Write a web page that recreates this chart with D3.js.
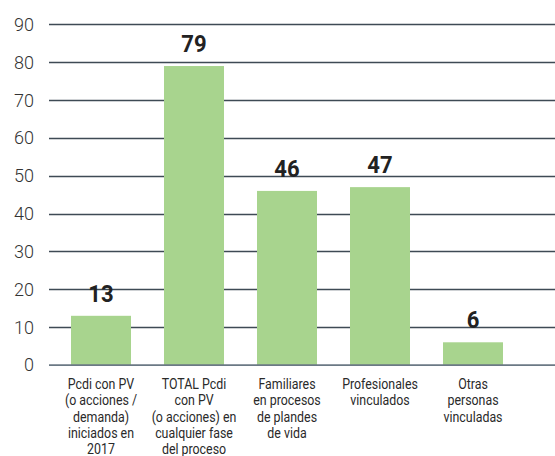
<!DOCTYPE html>
<html>
<head>
<meta charset="utf-8">
<script src="https://cdn.jsdelivr.net/npm/d3@7"></script>
<style>
  html, body { margin: 0; padding: 0; background: #fff; overflow: hidden; }
  svg { display: block; }
</style>
</head>
<body>
<svg id="chart" width="555" height="456"></svg>
<script>
const categories = [
  ["Pcdi con PV", "(o acciones /", "demanda)", "iniciados en", "2017"],
  ["TOTAL Pcdi", "con PV", "(o acciones) en", "cualquier fase", "del proceso"],
  ["Familiares", "en procesos", "de plandes", "de vida"],
  ["Profesionales", "vinculados"],
  ["Otras", "personas", "vinculadas"]
];
const values = [13, 79, 46, 47, 6];
const yTicks = [0, 10, 20, 30, 40, 50, 60, 70, 80, 90];

const svg = d3.select("#chart");
const x = d3.scaleBand().domain(d3.range(categories.length)).range([54.5, 519.5]).paddingInner(0.355).paddingOuter(0.1775);
const y = d3.scaleLinear().domain([0, 90]).range([365, 24.4]);

// gridlines
svg.append("g").selectAll("line").data(yTicks.filter(d => d > 0)).join("line")
  .attr("x1", 49).attr("x2", 555)
  .attr("y1", d => Math.round(y(d)) + 0.5).attr("y2", d => Math.round(y(d)) + 0.5)
  .attr("stroke", "#3e4a55").attr("stroke-width", 1.3);

// y tick labels
svg.append("g").selectAll("text").data(yTicks).join("text")
  .attr("x", 34).attr("y", d => y(d))
  .attr("dy", "0.36em")
  .attr("text-anchor", "end")
  .attr("font-family", "Roboto, 'Liberation Sans', sans-serif")
  .attr("font-weight", 300)
  .attr("font-size", 18)
  .attr("fill", "#333")
  .text(d => d);

// bars
svg.append("g").selectAll("rect").data(values).join("rect")
  .attr("x", (d, i) => x(i))
  .attr("width", x.bandwidth())
  .attr("y", d => y(d))
  .attr("height", d => y(0) - y(d))
  .attr("fill", "#a8d48e");

// zero axis line
svg.append("line")
  .attr("x1", 49).attr("x2", 555).attr("y1", 365.2).attr("y2", 365.2)
  .attr("stroke", "#6b7985").attr("stroke-width", 1.8);

// value labels
svg.append("g").selectAll("text").data(values).join("text")
  .attr("transform", (d, i) => `translate(${x(i) + x.bandwidth() / 2},${y(d) - 14}) scale(0.92,1)`)
  .attr("text-anchor", "middle")
  .attr("font-family", "Roboto, 'Liberation Sans', sans-serif")
  .attr("font-weight", 700)
  .attr("font-size", 24)
  .attr("fill", "#222")
  .text(d => d);

// category labels
const cat = svg.append("g").selectAll("text").data(categories).join("text")
  .attr("transform", (d, i) => `translate(${x(i) + x.bandwidth() / 2},383.5) scale(0.8,1)`)
  .attr("text-anchor", "middle")
  .attr("font-family", "Roboto, 'Liberation Sans', sans-serif")
  .attr("font-weight", 400)
  .attr("font-size", 15.5)
  .attr("fill", "#2a2a2a");
cat.selectAll("tspan").data(d => d).join("tspan")
  .attr("x", 0)
  .attr("dy", (d, i) => i === 0 ? "0.35em" : "16.3px")
  .text(d => d);
</script>
</body>
</html>
